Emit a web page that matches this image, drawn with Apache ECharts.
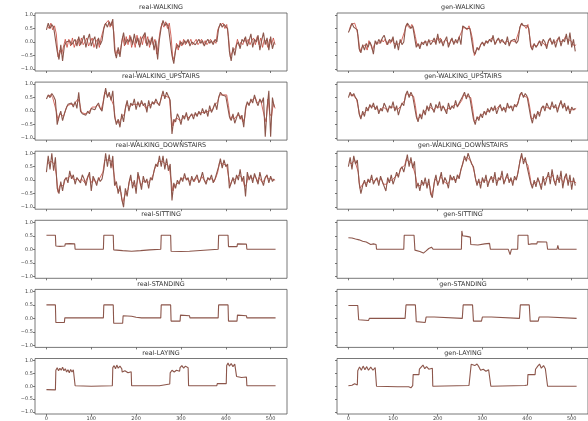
<!DOCTYPE html>
<html>
<head>
<meta charset="utf-8">
<script src="https://cdn.jsdelivr.net/npm/echarts@6/dist/echarts.min.js"></script>
<style>
  html, body { margin: 0; padding: 0; background: #fff; }
  #main { width: 588px; height: 421px; }
</style>
</head>
<body>
<div id="main"></div>
<script>
// tick labels
const xTicks = [0, 100, 200, 300, 400, 500];
const yTicks = [-1.0, -0.5, 0.0, 0.5, 1.0];

// walking panels: one value every STEP samples, 4 windows of 128 samples.
// "Alt" arrays are a second channel, sampled half a step later.
const STEP = 4;
const realWalking = [
  0.45, 0.7, 0.5, 0.65, 0.55, 0.5, -0.35, -0.65, -0.1, -0.7, -0.15, 0.0, -0.05, 0.05, -0.1, 0.0, 0.1, -0.15, 0.2, -0.1, 0.05, 0.25, -0.2, 0.1, 0.3, -0.15, 0.05, 0.2, -0.25, 0.15, -0.1, 0.05,
  0.5, 0.7, 0.55, 0.75, 0.6, 0.85, -0.3, -0.6, -0.2, -0.55, 0.0, 0.35, -0.1, 0.1, 0.0, 0.2, -0.1, 0.3, -0.05, 0.15, -0.2, 0.1, 0.05, 0.35, -0.15, 0.1, -0.1, 0.2, -0.3, 0.05, -0.65, 0.1,
  0.55, 0.8, 0.6, 0.7, 0.55, 0.6, -0.5, -0.8, -0.3, -0.1, -0.2, 0.0, -0.1, 0.05, -0.05, 0.1, -0.15, 0.0, 0.05, -0.1, 0.0, 0.1, -0.05, 0.05, -0.15, 0.0, 0.1, -0.05, 0.05, -0.1, 0.1, 0.0,
  0.5, 0.7, 0.55, 0.65, 0.6, 0.5, -0.35, -0.7, -0.2, -0.5, -0.1, 0.0, -0.25, 0.1, 0.0, 0.2, -0.15, 0.05, 0.3, -0.2, 0.1, 0.0, 0.25, -0.3, 0.05, 0.35, -0.1, 0.15, -0.3, 0.2, -0.25, 0.0
];
const realWalkingAlt = [
  0.6, 0.5, 0.7, 0.45, 0.6, 0.3, -0.55, -0.3, -0.45, -0.4, 0.1, -0.2, 0.1, -0.15, 0.15, -0.2, 0.0, 0.1, -0.15, 0.15, -0.1, 0.0, 0.15, -0.15, 0.0, 0.15, -0.2, 0.0, 0.1, -0.2, 0.15, 0.4,
  0.65, 0.6, 0.8, 0.55, 0.75, 0.4, -0.5, -0.3, -0.45, -0.2, 0.2, -0.15, 0.2, -0.1, 0.25, -0.2, 0.1, -0.2, 0.25, -0.1, 0.2, -0.1, 0.25, -0.05, 0.2, -0.2, 0.15, -0.1, 0.1, -0.45, 0.0, 0.45,
  0.7, 0.55, 0.75, 0.5, 0.7, 0.2, -0.65, -0.5, -0.05, -0.3, 0.05, -0.15, 0.1, -0.1, 0.05, -0.05, 0.1, -0.1, 0.0, 0.1, -0.1, 0.0, 0.1, -0.1, 0.05, -0.1, 0.0, 0.1, -0.05, 0.05, -0.05, 0.45,
  0.6, 0.55, 0.7, 0.5, 0.65, 0.2, -0.55, -0.4, -0.35, -0.2, 0.1, -0.15, 0.0, -0.1, 0.15, -0.05, 0.1, -0.1, 0.05, 0.15, -0.1, 0.2, -0.1, 0.15, -0.2, 0.1, 0.0, -0.2, 0.1, -0.1, 0.15, -0.1
];
const genWalking = [
  0.35, 0.5, 0.7, 0.55, 0.6, 0.45, -0.25, -0.4, -0.1, -0.3, -0.05, -0.2, 0.0, -0.15, -0.45, 0.05, -0.1, 0.1, -0.05, 0.15, 0.25, 0.05, -0.1, 0.1, 0.0, 0.2, -0.25, 0.05, -0.3, 0.1, -0.1, 0.0,
  0.55, 0.7, 0.6, 0.5, 0.6, 0.55, -0.2, -0.05, -0.25, 0.0, -0.1, 0.05, -0.15, 0.1, -0.1, 0.0, 0.15, -0.1, 0.3, -0.05, 0.1, -0.15, 0.05, 0.2, -0.2, 0.0, 0.15, -0.1, 0.1, -0.05, 0.2, -0.1,
  0.6, 0.65, 0.5, 0.55, 0.5, 0.45, -0.35, -0.45, -0.2, -0.3, -0.1, 0.0, -0.15, 0.05, -0.05, 0.1, 0.0, 0.25, -0.1, 0.05, 0.15, -0.05, 0.1, 0.0, -0.1, 0.2, -0.15, 0.05, 0.0, 0.1, -0.05, 0.05,
  0.55, 0.7, 0.6, 0.55, 0.6, 0.5, -0.15, -0.3, -0.05, -0.2, -0.1, 0.05, -0.15, 0.1, 0.0, -0.25, 0.05, 0.15, -0.1, 0.1, -0.2, 0.05, 0.2, -0.15, 0.1, 0.0, 0.3, -0.1, 0.35, -0.2, 0.1, -0.35
];
const genWalkingAlt = [
  0.45, 0.65, 0.6, 0.7, 0.5, 0.2, -0.35, -0.2, -0.25, -0.1, -0.3, 0.05, -0.1, -0.3, -0.1, 0.0, 0.05, -0.05, 0.1, 0.0, 0.1, -0.1, 0.05, -0.05, 0.1, -0.05, -0.1, -0.1, -0.05, 0.0, 0.05, 0.4,
  0.65, 0.6, 0.5, 0.65, 0.5, 0.2, -0.15, -0.2, -0.1, -0.15, 0.0, -0.05, 0.0, -0.05, 0.05, 0.1, 0.0, 0.15, 0.05, 0.15, -0.05, 0.0, 0.1, 0.0, -0.1, 0.1, 0.0, 0.05, 0.0, 0.1, 0.05, 0.4,
  0.55, 0.6, 0.45, 0.6, 0.4, 0.1, -0.5, -0.3, -0.25, -0.2, -0.05, -0.1, -0.05, 0.0, 0.05, 0.05, 0.15, 0.05, -0.05, 0.1, 0.05, 0.05, 0.05, -0.05, 0.05, 0.0, -0.05, 0.05, 0.05, 0.0, 0.0, 0.4,
  0.65, 0.6, 0.6, 0.5, 0.65, 0.2, -0.25, -0.1, -0.15, -0.15, 0.0, -0.05, 0.0, -0.05, -0.15, -0.05, 0.1, 0.0, 0.05, -0.05, -0.05, 0.15, 0.0, -0.05, 0.05, 0.2, 0.1, 0.15, 0.05, 0.0, -0.15, -0.1
];
const realUpstairs = [
  0.45, 0.6, 0.5, 0.65, 0.55, 0.4, -0.5, -0.2, 0.0, -0.35, -0.1, 0.1, 0.25, 0.2, 0.3, 0.15, 0.35, 0.1, 0.7, 0.0, -0.1, -0.05, -0.15, 0.0, -0.1, 0.1, 0.15, 0.05, 0.2, 0.3, 0.1, 0.0,
  0.45, 0.85, 0.5, 0.7, 0.4, 0.75, -0.2, -0.5, -0.3, -0.6, -0.1, -0.4, 0.1, 0.4, 0.0, 0.3, 0.2, 0.45, 0.05, 0.35, 0.15, 0.4, 0.2, 0.3, -0.05, 0.4, 0.1, 0.35, 0.25, 0.45, 0.3, 0.2,
  0.5, 0.75, 0.45, 0.7, 0.55, 0.4, -0.85, -0.3, -0.4, -0.1, -0.25, -0.5, -0.15, -0.3, -0.05, -0.35, -0.2, -0.1, -0.3, -0.05, -0.2, 0.0, -0.15, 0.1, -0.1, 0.05, -0.2, 0.2, -0.05, 0.1, 0.3, 0.05,
  0.5, 0.7, 0.6, 0.65, 0.55, 0.6, -0.2, -0.35, -0.1, -0.45, -0.25, -0.05, -0.3, -0.15, -0.6, 0.1, 0.35, 0.2, 0.45, 0.3, 0.6, 0.35, 0.2, 0.45, 0.3, 0.5, -0.95, 0.1, 0.75, -0.95, 0.5, 0.15
];
const realUpstairsAlt = [
  0.55, 0.55, 0.6, 0.5, 0.5, 0.0, -0.35, -0.1, -0.15, -0.2, 0.0, 0.2, 0.2, 0.25, 0.2, 0.25, 0.2, 0.45, 0.3, -0.05, -0.05, -0.1, -0.05, -0.05, 0.0, 0.15, 0.1, 0.15, 0.25, 0.2, 0.05, 0.3,
  0.7, 0.6, 0.6, 0.55, 0.6, 0.2, -0.35, -0.4, -0.45, -0.3, -0.25, -0.1, 0.25, 0.2, 0.15, 0.25, 0.3, 0.25, 0.2, 0.25, 0.3, 0.3, 0.25, 0.1, 0.2, 0.25, 0.25, 0.3, 0.35, 0.4, 0.25, 0.35,
  0.6, 0.6, 0.55, 0.6, 0.5, -0.2, -0.55, -0.35, -0.25, -0.2, -0.35, -0.3, -0.25, -0.15, -0.2, -0.25, -0.15, -0.2, -0.15, -0.15, -0.1, -0.05, -0.05, 0.0, -0.05, -0.05, 0.0, 0.05, 0.05, 0.2, 0.15, 0.35,
  0.6, 0.65, 0.6, 0.6, 0.6, 0.2, -0.3, -0.2, -0.3, -0.35, -0.15, -0.2, -0.2, -0.4, -0.25, 0.25, 0.3, 0.3, 0.4, 0.45, 0.5, 0.3, 0.3, 0.4, 0.4, -0.2, -0.4, 0.45, -0.1, -0.2, 0.3, 0.1
];
const genUpstairs = [
  0.5, 0.7, 0.55, 0.65, 0.5, 0.4, -0.1, -0.3, 0.0, -0.2, 0.15, 0.0, 0.25, 0.1, 0.3, 0.05, 0.2, -0.1, 0.1, 0.0, 0.3, 0.15, -0.05, 0.2, 0.1, 0.35, 0.0, 0.2, -0.15, 0.1, 0.3, 0.2,
  0.6, 0.75, 0.5, 0.7, 0.55, 0.6, -0.2, -0.4, -0.1, -0.3, 0.05, -0.15, 0.2, 0.0, 0.3, 0.1, -0.05, 0.25, 0.1, 0.35, 0.0, 0.2, 0.15, -0.1, 0.3, 0.05, 0.2, 0.1, 0.4, 0.15, 0.3, 0.25,
  0.55, 0.7, 0.45, 0.65, 0.5, 0.45, -0.3, -0.5, -0.2, -0.35, -0.1, -0.25, 0.0, -0.15, 0.1, -0.05, 0.15, 0.0, 0.2, -0.1, 0.1, 0.25, 0.0, 0.15, -0.05, 0.3, 0.1, 0.2, 0.0, 0.25, 0.15, 0.3,
  0.6, 0.7, 0.5, 0.65, 0.55, 0.5, -0.2, -0.45, -0.1, -0.3, 0.0, -0.2, 0.1, 0.2, 0.0, 0.3, 0.15, 0.05, 0.35, 0.1, 0.25, -0.05, 0.2, 0.4, 0.1, 0.3, 0.0, 0.2, -0.1, 0.15, 0.05, 0.1
];
const genUpstairsAlt = [
  0.6, 0.6, 0.6, 0.55, 0.45, 0.15, -0.2, -0.15, -0.1, -0.05, 0.05, 0.15, 0.15, 0.2, 0.15, 0.1, 0.05, 0.0, 0.05, 0.15, 0.2, 0.05, 0.1, 0.15, 0.2, 0.15, 0.1, 0.05, 0.0, 0.2, 0.25, 0.4,
  0.65, 0.6, 0.6, 0.6, 0.55, 0.2, -0.3, -0.25, -0.2, -0.1, -0.05, 0.05, 0.1, 0.15, 0.2, 0.05, 0.1, 0.15, 0.2, 0.15, 0.1, 0.15, 0.0, 0.1, 0.15, 0.1, 0.15, 0.25, 0.25, 0.2, 0.3, 0.4,
  0.6, 0.55, 0.55, 0.55, 0.5, 0.1, -0.4, -0.35, -0.25, -0.2, -0.15, -0.1, -0.05, 0.0, 0.0, 0.05, 0.1, 0.1, 0.05, 0.0, 0.2, 0.1, 0.05, 0.05, 0.15, 0.2, 0.15, 0.1, 0.15, 0.2, 0.25, 0.45,
  0.65, 0.6, 0.55, 0.6, 0.5, 0.15, -0.3, -0.25, -0.2, -0.1, -0.1, -0.05, 0.15, 0.1, 0.15, 0.2, 0.1, 0.2, 0.25, 0.15, 0.1, 0.1, 0.3, 0.25, 0.2, 0.15, 0.1, 0.05, 0.05, 0.1, 0.05, 0.1
];
const realDownstairs = [
  0.3, 0.9, 0.4, 1.0, 0.35, 0.85, -0.3, -0.5, -0.05, -0.4, 0.0, 0.1, -0.1, 0.35, 0.05, 0.2, -0.15, 0.1, 0.0, -0.1, 0.2, 0.05, -0.2, 0.1, 0.3, -0.4, 0.15, 0.0, -0.2, 0.1, -0.05, 0.05,
  0.4, 1.0, 0.5, 0.95, 0.45, 0.9, -0.2, -0.05, -0.5, -0.2, -0.7, -1.0, -0.3, -0.6, -0.1, 0.2, -0.3, 0.0, -0.5, 0.3, 0.0, -0.35, 0.15, -0.1, 0.05, -0.3, 0.1, 0.0, 0.35, 0.6, 0.5, 0.9,
  0.5, 0.9, 0.4, 0.8, 0.35, 0.6, -0.75, -0.1, -0.3, 0.0, -0.15, 0.1, -0.05, 0.25, 0.0, 0.1, -0.2, 0.15, -0.05, 0.0, 0.2, -0.1, 0.05, 0.3, 0.0, -0.15, 0.1, 0.0, 0.2, -0.1, 0.05, 0.1,
  0.5, 0.8, 0.45, 0.75, 0.5, 0.6, -0.3, -0.1, 0.1, -0.15, 0.2, 0.0, 0.4, -0.05, 0.15, -0.6, 0.3, 0.0, 0.2, -0.1, 0.25, 0.05, -0.15, 0.3, 0.0, -0.2, 0.1, 0.2, -0.1, 0.15, -0.05, 0.05
];
const realDownstairsAlt = [
  0.6, 0.65, 0.7, 0.7, 0.6, 0.2, -0.45, -0.2, -0.25, -0.2, 0.05, 0.0, 0.1, 0.2, 0.15, 0.0, -0.05, 0.05, -0.05, 0.05, 0.1, -0.1, -0.05, 0.2, 0.0, -0.1, 0.05, -0.1, -0.05, 0.05, 0.0, 0.3,
  0.75, 0.7, 0.75, 0.7, 0.7, 0.3, -0.15, -0.3, -0.35, -0.45, -0.85, -0.6, -0.45, -0.35, 0.05, -0.05, -0.15, -0.25, -0.1, 0.15, -0.2, -0.1, 0.0, -0.05, -0.1, -0.1, 0.05, 0.2, 0.45, 0.55, 0.7, 0.65,
  0.7, 0.65, 0.6, 0.55, 0.5, 0.0, -0.4, -0.2, -0.15, -0.1, 0.0, 0.0, 0.1, 0.1, 0.05, -0.05, 0.0, 0.05, -0.05, 0.1, 0.05, -0.05, 0.15, 0.15, -0.05, 0.0, 0.05, 0.1, 0.05, -0.05, 0.1, 0.3,
  0.65, 0.6, 0.6, 0.6, 0.55, 0.15, -0.2, 0.0, -0.05, 0.05, 0.1, 0.2, 0.15, 0.05, -0.25, -0.15, 0.15, 0.1, 0.05, 0.1, 0.15, -0.05, 0.1, 0.15, -0.1, -0.05, 0.15, 0.05, 0.05, 0.05, 0.0, 0.0
];
const genDownstairs = [
  0.5, 0.85, 0.4, 0.9, 0.6, 0.75, -0.1, -0.5, -0.2, 0.0, -0.25, 0.05, -0.1, 0.2, -0.15, 0.0, 0.1, -0.2, 0.15, -0.05, 0.0, -0.4, 0.1, -0.1, 0.2, -0.15, 0.05, 0.3, 0.1, 0.4, 0.5, 0.3,
  0.6, 0.95, 0.5, 0.85, 0.45, 0.7, -0.3, -0.1, -0.4, 0.0, -0.2, 0.1, -0.3, 0.05, -0.5, -0.65, -0.1, 0.2, -0.2, 0.0, 0.3, -0.15, 0.1, -0.05, -0.3, 0.2, 0.0, 0.15, -0.1, 0.2, 0.05, 0.4,
  0.6, 0.9, 0.7, 1.0, 0.8, 0.6, 0.5, 0.1, -0.2, 0.05, -0.3, 0.1, -0.1, 0.2, -0.25, 0.0, 0.15, -0.1, 0.3, -0.2, 0.1, 0.0, 0.35, -0.15, 0.05, 0.25, -0.1, 0.1, -0.2, 0.15, 0.0, 0.3,
  0.7, 1.0, 0.6, 0.85, 0.5, 0.55, -0.1, -0.3, 0.0, -0.25, 0.1, -0.1, -0.35, 0.15, -0.2, 0.05, 0.3, -0.15, 0.4, 0.0, -0.2, 0.2, -0.1, 0.35, -0.3, 0.1, 0.25, -0.2, 0.2, -0.35, 0.1, -0.2
];
const genDownstairsAlt = [
  0.7, 0.6, 0.65, 0.75, 0.7, 0.3, -0.3, -0.35, -0.1, -0.1, -0.1, -0.05, 0.05, 0.0, -0.05, 0.05, -0.05, 0.0, 0.05, -0.15, -0.2, -0.15, 0.0, 0.05, 0.0, -0.05, 0.15, 0.2, 0.25, 0.45, 0.4, 0.55,
  0.8, 0.7, 0.7, 0.65, 0.6, 0.2, -0.2, -0.25, -0.2, -0.1, -0.05, -0.1, -0.1, -0.2, -0.55, -0.35, 0.05, 0.0, -0.1, 0.15, 0.05, -0.05, 0.0, -0.15, -0.05, 0.1, 0.05, 0.0, 0.05, 0.1, 0.25, 0.5,
  0.75, 0.8, 0.85, 0.9, 0.7, 0.55, 0.3, -0.05, -0.1, -0.1, -0.1, 0.0, 0.05, 0.0, -0.1, 0.05, 0.0, 0.1, 0.05, -0.05, 0.05, 0.15, 0.1, -0.05, 0.15, 0.05, 0.0, -0.05, 0.0, 0.05, 0.15, 0.5,
  0.85, 0.8, 0.75, 0.7, 0.55, 0.2, -0.2, -0.15, -0.1, -0.1, 0.0, -0.2, -0.1, 0.0, -0.05, 0.15, 0.1, 0.1, 0.2, -0.1, 0.0, 0.05, 0.1, 0.1, -0.1, 0.15, 0.0, 0.0, -0.05, -0.1, -0.05, -0.1
];

// static panels: [sample, value] points
const realSitting = [
  [0, 0.52], [20, 0.52], [21, 0.12], [30, 0.11], [41, 0.12], [42, 0.2], [52, 0.21], [63, 0.2], [64, 0.0], [127, 0.0],
  [128, 0.52], [149, 0.52], [150, -0.02], [170, -0.05], [190, -0.07], [210, -0.05], [230, -0.02], [255, 0.0],
  [256, 0.52], [277, 0.52], [278, -0.07], [300, -0.08], [319, -0.07], [320, 0.0], [383, 0.0],
  [384, 0.52], [405, 0.52], [406, 0.1], [425, 0.1], [426, 0.2], [446, 0.19], [447, 0.0], [511, 0.0]
];
const genSitting = [
  [0, 0.43], [8, 0.42], [16, 0.38], [24, 0.35], [32, 0.3], [40, 0.27], [44, 0.2], [50, 0.18], [56, 0.2], [62, 0.18], [63, 0.0], [124, 0.0],
  [125, 0.52], [147, 0.52], [149, -0.03], [160, -0.08], [168, -0.14], [174, -0.06], [180, 0.03], [186, 0.08], [190, 0.0], [253, 0.0],
  [254, 0.68], [256, 0.5], [265, 0.48], [273, 0.45], [274, 0.18], [290, 0.16], [305, 0.2], [316, 0.22], [318, 0.0], [358, 0.0], [362, -0.2], [365, 0.0], [379, 0.0],
  [380, 0.52], [402, 0.52], [403, 0.18], [410, 0.2], [422, 0.2], [423, 0.28], [444, 0.27], [446, 0.0], [467, 0.0], [469, 0.15], [471, 0.0], [511, 0.0]
];
const realStanding = [
  [0, 0.5], [20, 0.5], [21, -0.15], [40, -0.15], [41, 0.02], [127, 0.02],
  [128, 0.5], [149, 0.5], [150, -0.18], [170, -0.18], [171, 0.1], [190, 0.08], [200, 0.04], [212, 0.02], [214, -0.04], [216, 0.02], [255, 0.02],
  [256, 0.5], [277, 0.5], [278, -0.1], [298, -0.1], [299, 0.12], [319, 0.1], [320, 0.02], [383, 0.02],
  [384, 0.5], [405, 0.5], [406, -0.1], [425, -0.1], [426, 0.12], [446, 0.1], [447, 0.02], [511, 0.02]
];
const genStanding = [
  [0, 0.48], [21, 0.48], [23, -0.05], [45, -0.08], [47, 0.0], [127, 0.0],
  [129, 0.5], [150, 0.5], [152, -0.12], [172, -0.15], [174, 0.05], [192, 0.05], [194, 0.0], [255, 0.0],
  [257, 0.5], [278, 0.5], [280, -0.1], [298, -0.1], [300, 0.05], [320, 0.05], [322, 0.0], [383, 0.0],
  [385, 0.5], [405, 0.5], [407, -0.1], [425, -0.1], [427, 0.05], [447, 0.05], [449, 0.0], [511, 0.0]
];
const realLaying = [
  [0, -0.13], [20, -0.14], [21, 0.62], [24, 0.72], [27, 0.6], [30, 0.7], [33, 0.62], [36, 0.74], [39, 0.6], [42, 0.68],
  [45, 0.55], [48, 0.64], [51, 0.52], [54, 0.65], [57, 0.55], [60, 0.64], [63, 0.58], [64, 0.02], [100, 0.0], [147, 0.02],
  [148, 0.72], [151, 0.8], [154, 0.68], [157, 0.82], [160, 0.7], [164, 0.78], [168, 0.68], [169, 0.55], [175, 0.6], [182, 0.52], [189, 0.56], [190, 0.02], [252, 0.02], [253, 0.09], [275, 0.09],
  [276, 0.52], [280, 0.62], [285, 0.55], [290, 0.62], [297, 0.58], [298, 0.72], [302, 0.8], [306, 0.7], [310, 0.78], [316, 0.72], [317, 0.02], [380, 0.02], [381, 0.1], [401, 0.1],
  [402, 0.8], [405, 0.9], [408, 0.78], [412, 0.88], [416, 0.76], [420, 0.86], [423, 0.8], [424, 0.38], [435, 0.34], [446, 0.36], [447, 0.02], [511, 0.02]
];
const genLaying = [
  [0, 0.02], [8, 0.04], [14, 0.1], [16, 0.04], [20, 0.05], [21, 0.6], [25, 0.75], [29, 0.62], [33, 0.78], [37, 0.64], [41, 0.76], [45, 0.62], [50, 0.74], [55, 0.62], [60, 0.72], [62, 0.66], [63, 0.0],
  [110, -0.02], [112, -0.09], [114, 0.0], [135, -0.02], [140, -0.06], [144, 0.02],
  [145, 0.45], [158, 0.45], [159, 0.66], [163, 0.74], [167, 0.82], [171, 0.68], [175, 0.76], [180, 0.66], [188, 0.7], [189, 0.0],
  [270, 0.03], [274, 0.06], [275, 0.85], [279, 0.92], [283, 0.8], [288, 0.86], [292, 0.76], [296, 0.62], [302, 0.66], [308, 0.58], [314, 0.64], [318, 0.6], [319, 0.0],
  [395, 0.03], [401, 0.05], [402, 0.45], [418, 0.45], [419, 0.66], [424, 0.78], [428, 0.86], [432, 0.7], [437, 0.8], [441, 0.68], [445, 0.72], [446, 0.0], [511, 0.0]
];

// [title, values, second channel, column, row]
const panels = [
  ['real-WALKING', realWalking, realWalkingAlt, 0, 0],
  ['gen-WALKING', genWalking, genWalkingAlt, 1, 0],
  ['real-WALKING_UPSTAIRS', realUpstairs, realUpstairsAlt, 0, 1],
  ['gen-WALKING_UPSTAIRS', genUpstairs, genUpstairsAlt, 1, 1],
  ['real-WALKING_DOWNSTAIRS', realDownstairs, realDownstairsAlt, 0, 2],
  ['gen-WALKING_DOWNSTAIRS', genDownstairs, genDownstairsAlt, 1, 2],
  ['real-SITTING', realSitting, null, 0, 3],
  ['gen-SITTING', genSitting, null, 1, 3],
  ['real-STANDING', realStanding, null, 0, 4],
  ['gen-STANDING', genStanding, null, 1, 4],
  ['real-LAYING', realLaying, null, 0, 5],
  ['gen-LAYING', genLaying, null, 1, 5]
];

const FONT = 'DejaVu Sans';
const colLeft = [35, 337];
const plotW = 252;
const top0 = 13;
const rowStep = 69.1;
const plotH = 58;

const grids = [], xAxes = [], yAxes = [], titles = [], series = [];

panels.forEach(function (p, i) {
  const name = p[0], vals = p[1], alt = p[2], col = p[3], row = p[4];
  const left = colLeft[col];
  const top = top0 + row * rowStep;
  grids.push({
    left: left, top: top, width: plotW, height: plotH,
    show: true, borderColor: '#555', borderWidth: 0.8, backgroundColor: 'transparent'
  });
  titles.push({
    text: name,
    left: left + plotW / 2,
    top: top - 8.5,
    textAlign: 'center',
    padding: 0,
    textStyle: { fontSize: 6.4, fontWeight: 'normal', color: '#333', fontFamily: FONT }
  });
  xAxes.push({
    type: 'value', gridIndex: i, min: -25.5, max: 536.5,
    axisLine: { show: false, onZero: false },
    splitLine: { show: false },
    axisTick: { show: true, length: 2, customValues: xTicks, lineStyle: { color: '#555', width: 0.8 } },
    axisLabel: {
      show: row === 5, customValues: xTicks, fontSize: 5, margin: 2,
      color: '#444', fontFamily: FONT
    }
  });
  yAxes.push({
    type: 'value', gridIndex: i, min: -1.075, max: 1.075,
    axisLine: { show: false, onZero: false },
    splitLine: { show: false },
    axisTick: { show: true, length: 2, customValues: yTicks, lineStyle: { color: '#555', width: 0.8 } },
    axisLabel: {
      show: col === 0, customValues: yTicks, fontSize: 5, margin: 2,
      color: '#444', fontFamily: FONT,
      formatter: function (v) { return v.toFixed(1).replace('-', '\u2212'); }
    }
  });
  if (alt) {
    series.push({
      type: 'line', xAxisIndex: i, yAxisIndex: i,
      data: alt.map(function (v, k) { return [k * STEP + STEP / 2, v]; }),
      showSymbol: false, symbol: 'none',
      lineStyle: { color: '#c8453a', width: 1, opacity: 0.8 },
      z: 1
    });
  }
  const data = typeof vals[0] === 'number'
    ? vals.map(function (v, k) { return [k * STEP, v]; })
    : vals;
  series.push({
    type: 'line', xAxisIndex: i, yAxisIndex: i,
    data: data, showSymbol: false, symbol: 'none',
    lineStyle: { color: '#8c564b', width: 1.1 },
    z: 2
  });
});

const chart = echarts.init(document.getElementById('main'));
chart.setOption({
  animation: false,
  title: titles,
  grid: grids,
  xAxis: xAxes,
  yAxis: yAxes,
  series: series
});
</script>
</body>
</html>
